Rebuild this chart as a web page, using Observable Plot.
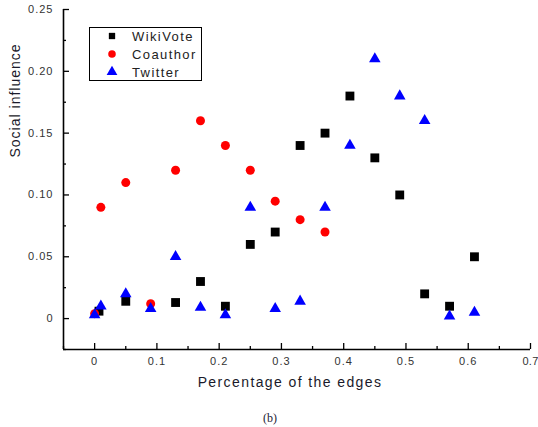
<!DOCTYPE html>
<html><head><meta charset="utf-8">
<script src="https://cdn.jsdelivr.net/npm/d3@7"></script>
<script src="https://cdn.jsdelivr.net/npm/@observablehq/plot@0.6"></script>
<style>
body{margin:0;background:#fff;}
#wrap{position:relative;width:538px;height:427px;font-family:"Liberation Sans",Arial,sans-serif;}
#legend{position:absolute;left:89px;top:27px;width:111px;height:52px;border:1.5px solid #000;background:#fff;}
#cap{position:absolute;left:0;width:540px;top:411px;text-align:center;font-family:"Liberation Serif","Times New Roman",serif;font-size:12px;color:#223;}
</style></head>
<body>
<div id="wrap"><div id="chart"></div><div id="legend"></div><div id="cap">(b)</div></div>
<script>
// Data
const seriesNames = ["WikiVote", "Coauthor", "Twitter"];
const wikiX = [0.007,0.05,0.13,0.17,0.21,0.25,0.29,0.33,0.37,0.41,0.45,0.49,0.53,0.57,0.61];
const wikiY = [0.006,0.014,0.013,0.03,0.01,0.06,0.07,0.14,0.15,0.18,0.13,0.10,0.02,0.01,0.05];
const coauthX = [0,0.01,0.05,0.09,0.13,0.17,0.21,0.25,0.29,0.33,0.37];
const coauthY = [0.004,0.09,0.11,0.012,0.12,0.16,0.14,0.12,0.095,0.08,0.07];
const twitX = [0,0.01,0.05,0.09,0.13,0.17,0.21,0.25,0.29,0.33,0.37,0.41,0.45,0.49,0.53,0.57,0.61];
const twitY = [0.003,0.01,0.02,0.008,0.05,0.009,0.003,0.09,0.008,0.014,0.09,0.14,0.21,0.18,0.16,0.002,0.005];
const xTicks = [0,0.1,0.2,0.3,0.4,0.5,0.6,0.7];
const xTickLabels = ["0","0.1","0.2","0.3","0.4","0.5","0.6","0.7"];
const xMinor = [-0.05,0.05,0.15,0.25,0.35,0.45,0.55,0.65];
const yTicks = [0,0.05,0.10,0.15,0.20,0.25];
const yTickLabels = ["0","0.05","0.10","0.15","0.20","0.25"];
const yMinor = [-0.025,0.025,0.075,0.125,0.175,0.225];
const xDomain = [-0.05, 0.7];
const yDomain = [-0.025, 0.25];
const xTitle = "Percentage of the edges";
const yTitle = "Social influence";

const toRows = (xs, ys) => xs.map((x, i) => ({x, y: ys[i]}));
const wiki = toRows(wikiX, wikiY), coauth = toRows(coauthX, coauthY), twit = toRows(twitX, twitY);
const xLab = new Map(xTicks.map((d, i) => [d, xTickLabels[i]]));
const yLab = new Map(yTicks.map((d, i) => [d, yTickLabels[i]]));

const W = 538, H = 400, mL = 63, mR = 8, mT = 9, mB = 51;
const pw = W - mL - mR, ph = H - mT - mB;

const chart = Plot.plot({
  width: W, height: H,
  marginLeft: mL, marginRight: mR, marginTop: mT, marginBottom: mB,
  x: {domain: xDomain},
  y: {domain: yDomain},
  style: {fontFamily: "'Liberation Sans', Arial, sans-serif", fontSize: "11px", letterSpacing: "1px", background: "#fff", overflow: "visible"},
  marks: [
    Plot.axisX(xTicks, {tickSize: 0, tickPadding: 8, tickFormat: d => xLab.get(d), fill: "#333", label: null}),
    Plot.axisY(yTicks, {tickSize: 0, tickPadding: 10, tickFormat: d => yLab.get(d), fill: "#333", label: null}),
    Plot.tickX(xTicks, {x: d => d, insetTop: ph - 6, stroke: "#000", strokeWidth: 1.3}),
    Plot.tickX(xMinor, {x: d => d, insetTop: ph - 3, stroke: "#000", strokeWidth: 1.3}),
    Plot.tickY(yTicks, {y: d => d, insetRight: pw - 6, stroke: "#000", strokeWidth: 1.3}),
    Plot.tickY(yMinor, {y: d => d, insetRight: pw - 3, stroke: "#000", strokeWidth: 1.3}),
    Plot.ruleX([xDomain[0]], {stroke: "#000", strokeWidth: 1.6}),
    Plot.ruleY([yDomain[0]], {stroke: "#000", strokeWidth: 1.6}),
    Plot.dot(wiki, {x: "x", y: "y", symbol: "square", r: 5, fill: "#000", stroke: "none"}),
    Plot.dot(coauth, {x: "x", y: "y", symbol: "circle", r: 4.5, fill: "#ff0000", stroke: "none"}),
    Plot.dot(twit, {x: "x", y: "y", symbol: "triangle", r: 4.3, fill: "#0000ff", stroke: "none"}),
    Plot.text([xTitle], {frameAnchor: "bottom", dy: 33, dx: -7, lineAnchor: "middle", fontSize: 14, fill: "#1a1a2a"}),
    Plot.text([yTitle], {frameAnchor: "left", dx: -48, dy: -22, rotate: -90, lineAnchor: "middle", fontSize: 14, fill: "#1a1a2a"})
  ]
});
document.getElementById("chart").appendChild(chart);
d3.select(chart).selectAll("text").filter(function(){return this.textContent === xTitle;}).style("letter-spacing", "1.4px");
d3.select(chart).selectAll("text").filter(function(){return this.textContent === "0.7";}).style("letter-spacing", "0.3px");

// Legend
const lg = d3.select("#legend").append("svg").attr("width", 111).attr("height", 52)
  .style("font-family", "'Liberation Sans', Arial, sans-serif");
const symbols = [d3.symbolSquare, d3.symbolCircle, d3.symbolTriangle];
const colors = ["#000", "#ff0000", "#0000ff"];
const sizes = [40, 45, 50];
seriesNames.forEach((name, i) => {
  const cy = 8 + i * 18;
  lg.append("path").attr("d", d3.symbol(symbols[i], sizes[i])()).attr("transform", `translate(22,${cy})`).attr("fill", colors[i]);
  lg.append("text").attr("x", 42).attr("y", cy).attr("dy", "0.35em").attr("font-size", 13).attr("letter-spacing", "1.4px").attr("fill", "#222").text(name);
});
</script>
</body></html>
